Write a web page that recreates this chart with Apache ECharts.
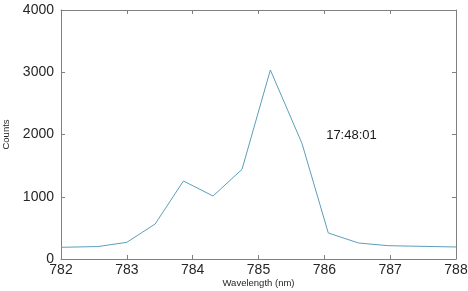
<!DOCTYPE html>
<html><head><meta charset="utf-8">
<script src="https://cdn.jsdelivr.net/npm/echarts@6/dist/echarts.min.js"></script>
<style>html,body{margin:0;padding:0;background:#fff}#c{width:468px;height:291px}</style>
</head><body><div id="c"></div>
<script>
var wavelengths = [782.0, 782.56, 783.0, 783.43, 783.86, 784.31, 784.75, 785.18, 785.66, 786.06, 786.52, 786.97, 788.0];
var counts = [188, 200, 268, 562, 1253, 1012, 1441, 3036, 1859, 418, 257, 214, 193];
var xTicks = [782, 783, 784, 785, 786, 787, 788];
var yTicks = [0, 1000, 2000, 3000, 4000];
var annotation = '17:48:01';
var xName = 'Wavelength (nm)';
var yName = 'Counts';

var chart = echarts.init(document.getElementById('c'), null, {renderer: 'canvas'});
var axisCol = '#808080';
var font = 'Liberation Sans, Arial, sans-serif';
function common() {
  return {
    axisLine: {show: true, onZero: false, lineStyle: {color: axisCol, width: 1}},
    axisTick: {show: true, inside: true, length: 4, lineStyle: {color: axisCol}},
    splitLine: {show: false}
  };
}
chart.setOption({
  animation: false,
  grid: {left: 61, top: 10, right: 12, bottom: 32, show: false, containLabel: false, outerBoundsMode: 'none'},
  graphic: [{
    type: 'text', x: 258.5, y: 283,
    style: {text: xName, fontSize: 9.5, fill: '#262626', fontFamily: font, align: 'center', verticalAlign: 'middle'}
  }],
  xAxis: [
    Object.assign({type: 'value', min: 782, max: 788, interval: 1, position: 'bottom',
      axisLabel: {fontSize: 14, color: '#262626', margin: 4, fontFamily: font,
        formatter: function (v) { return String(v); }}}, common()),
    Object.assign({type: 'value', min: 782, max: 788, interval: 1, position: 'top',
      axisLabel: {show: false}}, common())
  ],
  yAxis: [
    Object.assign({type: 'value', min: 0, max: 4000, interval: 1000, position: 'left',
      name: yName, nameLocation: 'middle', nameGap: 50, nameRotate: 90,
      nameTextStyle: {fontSize: 9.5, color: '#262626', fontFamily: font},
      axisLabel: {fontSize: 14, color: '#262626', margin: 7, fontFamily: font,
        formatter: function (v) { return String(v); }}}, common()),
    Object.assign({type: 'value', min: 0, max: 4000, interval: 1000, position: 'right',
      axisLabel: {show: false}}, common())
  ],
  series: [{
    type: 'line',
    data: wavelengths.map(function (w, i) { return [w, counts[i]]; }),
    showSymbol: false,
    lineStyle: {color: '#5a9fb8', width: 1},
    markPoint: {
      symbol: 'circle',
      symbolSize: 1,
      itemStyle: {color: 'rgba(0,0,0,0)'},
      data: [{coord: [786.02, 1980], value: 1}],
      label: {show: true, position: 'right', distance: 0, formatter: annotation, fontSize: 13, color: '#1a1a1a', fontFamily: font}
    }
  }]
});
</script></body></html>
